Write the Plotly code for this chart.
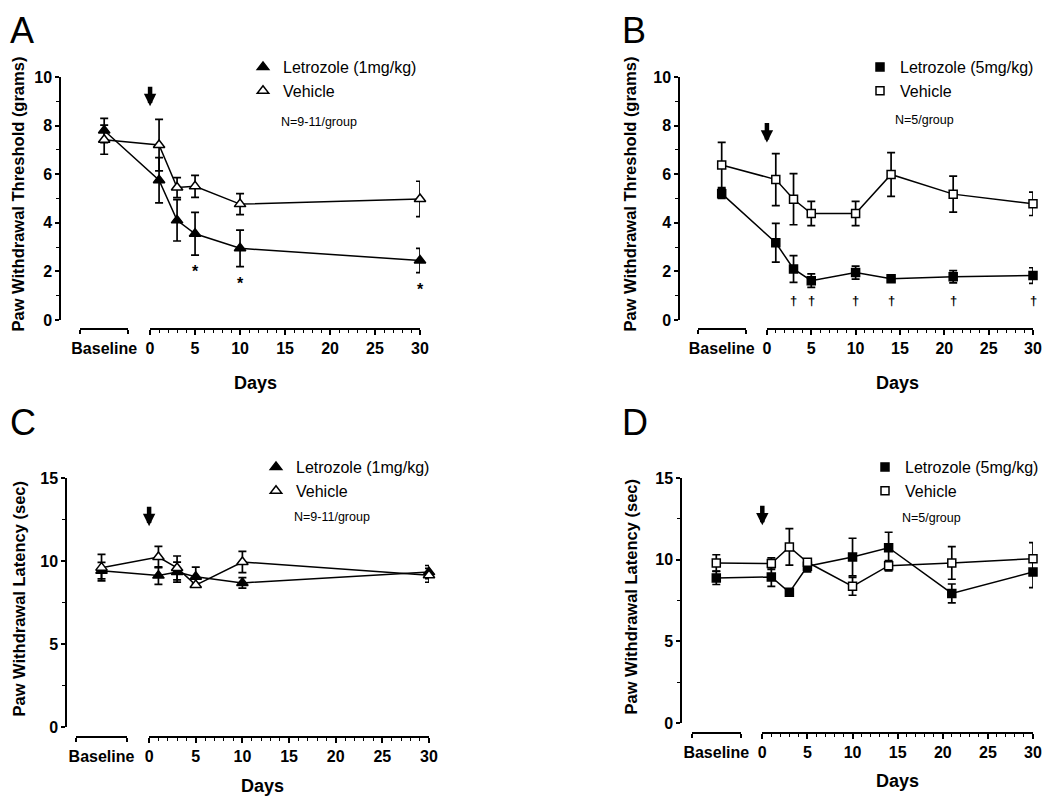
import plotly.graph_objects as go

W, H = 1050, 801
OFF = 8                      # page body margin around the figure div
FW, FH = W - OFF, H - OFF    # figure size so the page fits the window
FONT = "Liberation Sans, Arial, sans-serif"

# ---------------- data: mean and SEM, first value is the baseline ----------------
days_1mg = [1, 3, 5, 10, 30]
days_5mg = [1, 3, 5, 10, 14, 21, 30]

# A - von Frey threshold (grams), letrozole 1 mg/kg
a_let_mean = [7.8, 5.75, 4.1, 3.55, 2.95, 2.45]
a_let_sem = [0.5, 0.93, 0.85, 0.88, 0.75, 0.5]
a_veh_mean = [7.42, 7.2, 5.45, 5.5, 4.77, 4.98]
a_veh_sem = [0.6, 1.06, 0.41, 0.45, 0.43, 0.73]
a_sig_days = [5, 10, 30]

# B - von Frey threshold (grams), letrozole 5 mg/kg
b_let_mean = [5.2, 3.18, 2.1, 1.62, 1.95, 1.7, 1.78, 1.83]
b_let_sem = [0.2, 0.8, 0.55, 0.28, 0.27, 0.1, 0.25, 0.32]
b_veh_mean = [6.38, 5.78, 4.97, 4.38, 4.38, 5.99, 5.18, 4.78]
b_veh_sem = [0.93, 1.07, 1.05, 0.5, 0.5, 0.9, 0.74, 0.48]
b_sig_days = [3, 5, 10, 14, 21, 30]

# C - Hargreaves latency (sec), letrozole 1 mg/kg
c_let_mean = [9.42, 9.12, 9.33, 9.05, 8.68, 9.33]
c_let_sem = [0.5, 0.53, 0.6, 0.58, 0.32, 0.4]
c_veh_mean = [9.6, 10.24, 9.58, 8.55, 9.94, 9.14]
c_veh_sem = [0.8, 0.64, 0.72, 0.1, 0.64, 0.42]

# D - Hargreaves latency (sec), letrozole 5 mg/kg
d_let_mean = [8.88, 8.94, 8.0, 9.6, 10.16, 10.73, 7.93, 9.24]
d_let_sem = [0.4, 0.57, 0.1, 0.35, 1.15, 0.95, 0.58, 0.95]
d_veh_mean = [9.8, 9.76, 10.78, 9.84, 8.37, 9.63, 9.8, 10.06]
d_veh_sem = [0.5, 0.35, 1.12, 0.2, 0.55, 0.32, 1.0, 0.98]

# ---------------- layout helpers ----------------
BASE_X = -5.1            # where the baseline point sits on the day scale
BASE_SPAN = (-7.8, -2.4)  # extent of the "Baseline" axis segment


def fx(px):
    return (px - OFF) / FW


def fy(py):
    return 1 - (py - OFF) / FH


fig = go.Figure()
layout = {}
annotations = []


def add_panel(i, letter, days, let_mean, let_sem, veh_mean, veh_sem, dose, n_text,
              ytitle, g, sym, ymax, ydtick, yminor, arrow_y, sig_days=None, sig_mark=None):
    xa = "x" if i == 1 else f"x{i}"
    ya = "y" if i == 1 else f"y{i}"
    sfx = "" if i == 1 else str(i)
    lg = "legend" if i == 1 else f"legend{i}"
    xs = [BASE_X] + days

    for mean in (let_mean, veh_mean):
        fig.add_trace(go.Scatter(x=xs, y=mean, mode="lines", line=dict(color="black", width=1.5),
                                 xaxis=xa, yaxis=ya, showlegend=False, hoverinfo="skip",
                                 cliponaxis=False))
    for name, mean, sem, fill in ((f"Letrozole ({dose})", let_mean, let_sem, "black"),
                                  ("Vehicle", veh_mean, veh_sem, "white")):
        fig.add_trace(go.Scatter(
            x=xs, y=mean, mode="markers", name=name,
            error_y=dict(type="data", array=sem, color="black", thickness=1.7, width=4),
            marker=dict(symbol=sym, size=g["msize"], color=fill, line=dict(color="black", width=1.5)),
            xaxis=xa, yaxis=ya, legend=lg, cliponaxis=False))

    lo, xl, xr = g["lo"], g["xl"], g["xr"]

    def dx(v):
        return fx(xl + (v - lo) / (30 - lo) * (xr - xl))

    tickfont = dict(family=FONT, size=16, color="black", weight="bold")
    layout["xaxis" + sfx] = dict(domain=[fx(xl), fx(xr)], range=[lo, 30], visible=False, anchor=ya)
    layout["yaxis" + sfx] = dict(
        domain=[fy(g["yb"]), fy(g["yt"])], range=[0, ymax], anchor=xa, automargin=False,
        showline=True, linecolor="black", linewidth=1.5, showgrid=False, zeroline=False,
        ticks="outside", ticklen=4, tickwidth=1.5, tickcolor="black",
        tickmode="linear", tick0=0, dtick=ydtick, tickfont=tickfont,
        minor=dict(dtick=yminor, ticks="outside", ticklen=3, tickwidth=1.2, tickcolor="black"))

    # day axis segment 0-30
    di, bi = i + 4, i + 8
    layout[f"xaxis{di}"] = dict(
        domain=[dx(0), dx(30)], range=[0, 30], anchor="free", position=fy(g["xline"]),
        automargin=False,
        showline=True, linecolor="black", linewidth=1.5, showgrid=False, zeroline=False,
        tickvals=list(range(0, 31, 5)), ticks="outside", ticklen=5, tickwidth=1.5, tickcolor="black",
        tickfont=tickfont,
        minor=dict(tickvals=[d for d in range(1, 30) if d % 5], ticks="outside", ticklen=3,
                   tickwidth=1.2, tickcolor="black"))
    # baseline axis segment
    layout[f"xaxis{bi}"] = dict(
        domain=[dx(BASE_SPAN[0]), dx(BASE_SPAN[1])], range=list(BASE_SPAN), anchor="free",
        position=fy(g["xline"]), automargin=False, showline=True, linecolor="black", linewidth=1.5,
        showgrid=False, zeroline=False, tickvals=[BASE_X], ticktext=["Baseline"], ticks="",
        ticklabelstandoff=5, tickfont=tickfont,
        minor=dict(tickvals=list(BASE_SPAN), ticks="outside", ticklen=4, tickwidth=1.5,
                   tickcolor="black"))
    for ax_i in (di, bi):
        fig.add_trace(go.Scatter(x=[], y=[], xaxis=f"x{ax_i}", yaxis=ya, showlegend=False,
                                 hoverinfo="skip"))

    layout[lg] = dict(x=fx(g["legx"]), y=fy(g["legy"]), xanchor="left", yanchor="top",
                      bgcolor="rgba(0,0,0,0)", font=dict(family=FONT, size=16, color="black"),
                      itemwidth=30, tracegroupgap=0)

    annotations.extend([
        dict(text=letter, x=fx(g["letx"]), y=fy(g["lety"]), xref="paper", yref="paper",
             xanchor="left", yanchor="top", showarrow=False,
             font=dict(family=FONT, size=36, color="black")),
        dict(text=n_text, x=fx(g["nx"]), y=fy(g["ny"]), xref="paper", yref="paper",
             xanchor="left", yanchor="middle", showarrow=False,
             font=dict(family=FONT, size=12.5, color="black")),
        dict(text=ytitle, x=fx(g["ytx"]), y=fy((g["yt"] + g["yb"]) / 2 - 4), xref="paper",
             yref="paper", textangle=-90, showarrow=False, xanchor="center", yanchor="middle",
             font=dict(family=FONT, size=16.5, color="black", weight="bold")),
        dict(text="Days", x=fx(g["daysx"]), y=fy(g["daysy"]), xref="paper", yref="paper",
             showarrow=False, xanchor="center", yanchor="middle",
             font=dict(family=FONT, size=18, color="black", weight="bold")),
        dict(text="", x=0, y=arrow_y, xref=xa, yref=ya, ax=0, ay=-21, showarrow=True,
             arrowhead=2, arrowsize=0.55, arrowwidth=4.5, arrowcolor="black"),
    ])

    if sig_days:
        for d in sig_days:
            k = days.index(d) + 1
            if sig_mark == "*":
                annotations.append(dict(text="*", x=d, y=let_mean[k] - let_sem[k], xref=xa, yref=ya,
                                        yanchor="top", yshift=-6, showarrow=False,
                                        font=dict(family=FONT, size=16, color="black", weight="bold")))
            else:
                annotations.append(dict(text="†", x=d, y=0.8, xref=xa, yref=ya,
                                        yanchor="middle", showarrow=False,
                                        font=dict(family=FONT, size=13, color="black", weight="bold")))


geo_a = dict(xl=61, xr=420, lo=-9.9, yt=77, yb=320, xline=329, msize=10,
             legx=243, legy=50, nx=279, ny=122, letx=8, lety=8, ytx=18, daysx=255, daysy=383)
geo_b = dict(xl=680, xr=1033, lo=-9.8, yt=77, yb=320, xline=329, msize=8,
             legx=860, legy=50, nx=893, ny=120, letx=620, lety=8, ytx=630, daysx=897, daysy=383)
geo_c = dict(xl=67, xr=429, lo=-8.8, yt=478, yb=727, xline=737, msize=10,
             legx=256, legy=450, nx=292, ny=517, letx=8, lety=400, ytx=18, daysx=262, daysy=786)
geo_d = dict(xl=682, xr=1033, lo=-8.9, yt=478, yb=723, xline=733, msize=8,
             legx=865, legy=450, nx=900, ny=518, letx=620, lety=400, ytx=630, daysx=897, daysy=781)

add_panel(1, "A", days_1mg, a_let_mean, a_let_sem, a_veh_mean, a_veh_sem, "1mg/kg", "N=9-11/group",
          "Paw Withdrawal Threshold (grams)", geo_a, "triangle-up", 10, 2, 1, 8.8, a_sig_days, "*")
add_panel(2, "B", days_5mg, b_let_mean, b_let_sem, b_veh_mean, b_veh_sem, "5mg/kg", "N=5/group",
          "Paw Withdrawal Threshold (grams)", geo_b, "square", 10, 2, 1, 7.3, b_sig_days, "†")
add_panel(3, "C", days_1mg, c_let_mean, c_let_sem, c_veh_mean, c_veh_sem, "1mg/kg", "N=9-11/group",
          "Paw Withdrawal Latency (sec)", geo_c, "triangle-up", 15, 5, 2.5, 12.1)
add_panel(4, "D", days_5mg, d_let_mean, d_let_sem, d_veh_mean, d_veh_sem, "5mg/kg", "N=5/group",
          "Paw Withdrawal Latency (sec)", geo_d, "square", 15, 5, 2.5, 12.1)

fig.update_layout(
    width=FW, height=FH, margin=dict(l=0, r=0, t=0, b=0, autoexpand=False),
    paper_bgcolor="white", plot_bgcolor="rgba(0,0,0,0)",
    font=dict(family=FONT, color="black"),
    annotations=annotations, **layout)

fig.write_html("out.html")
